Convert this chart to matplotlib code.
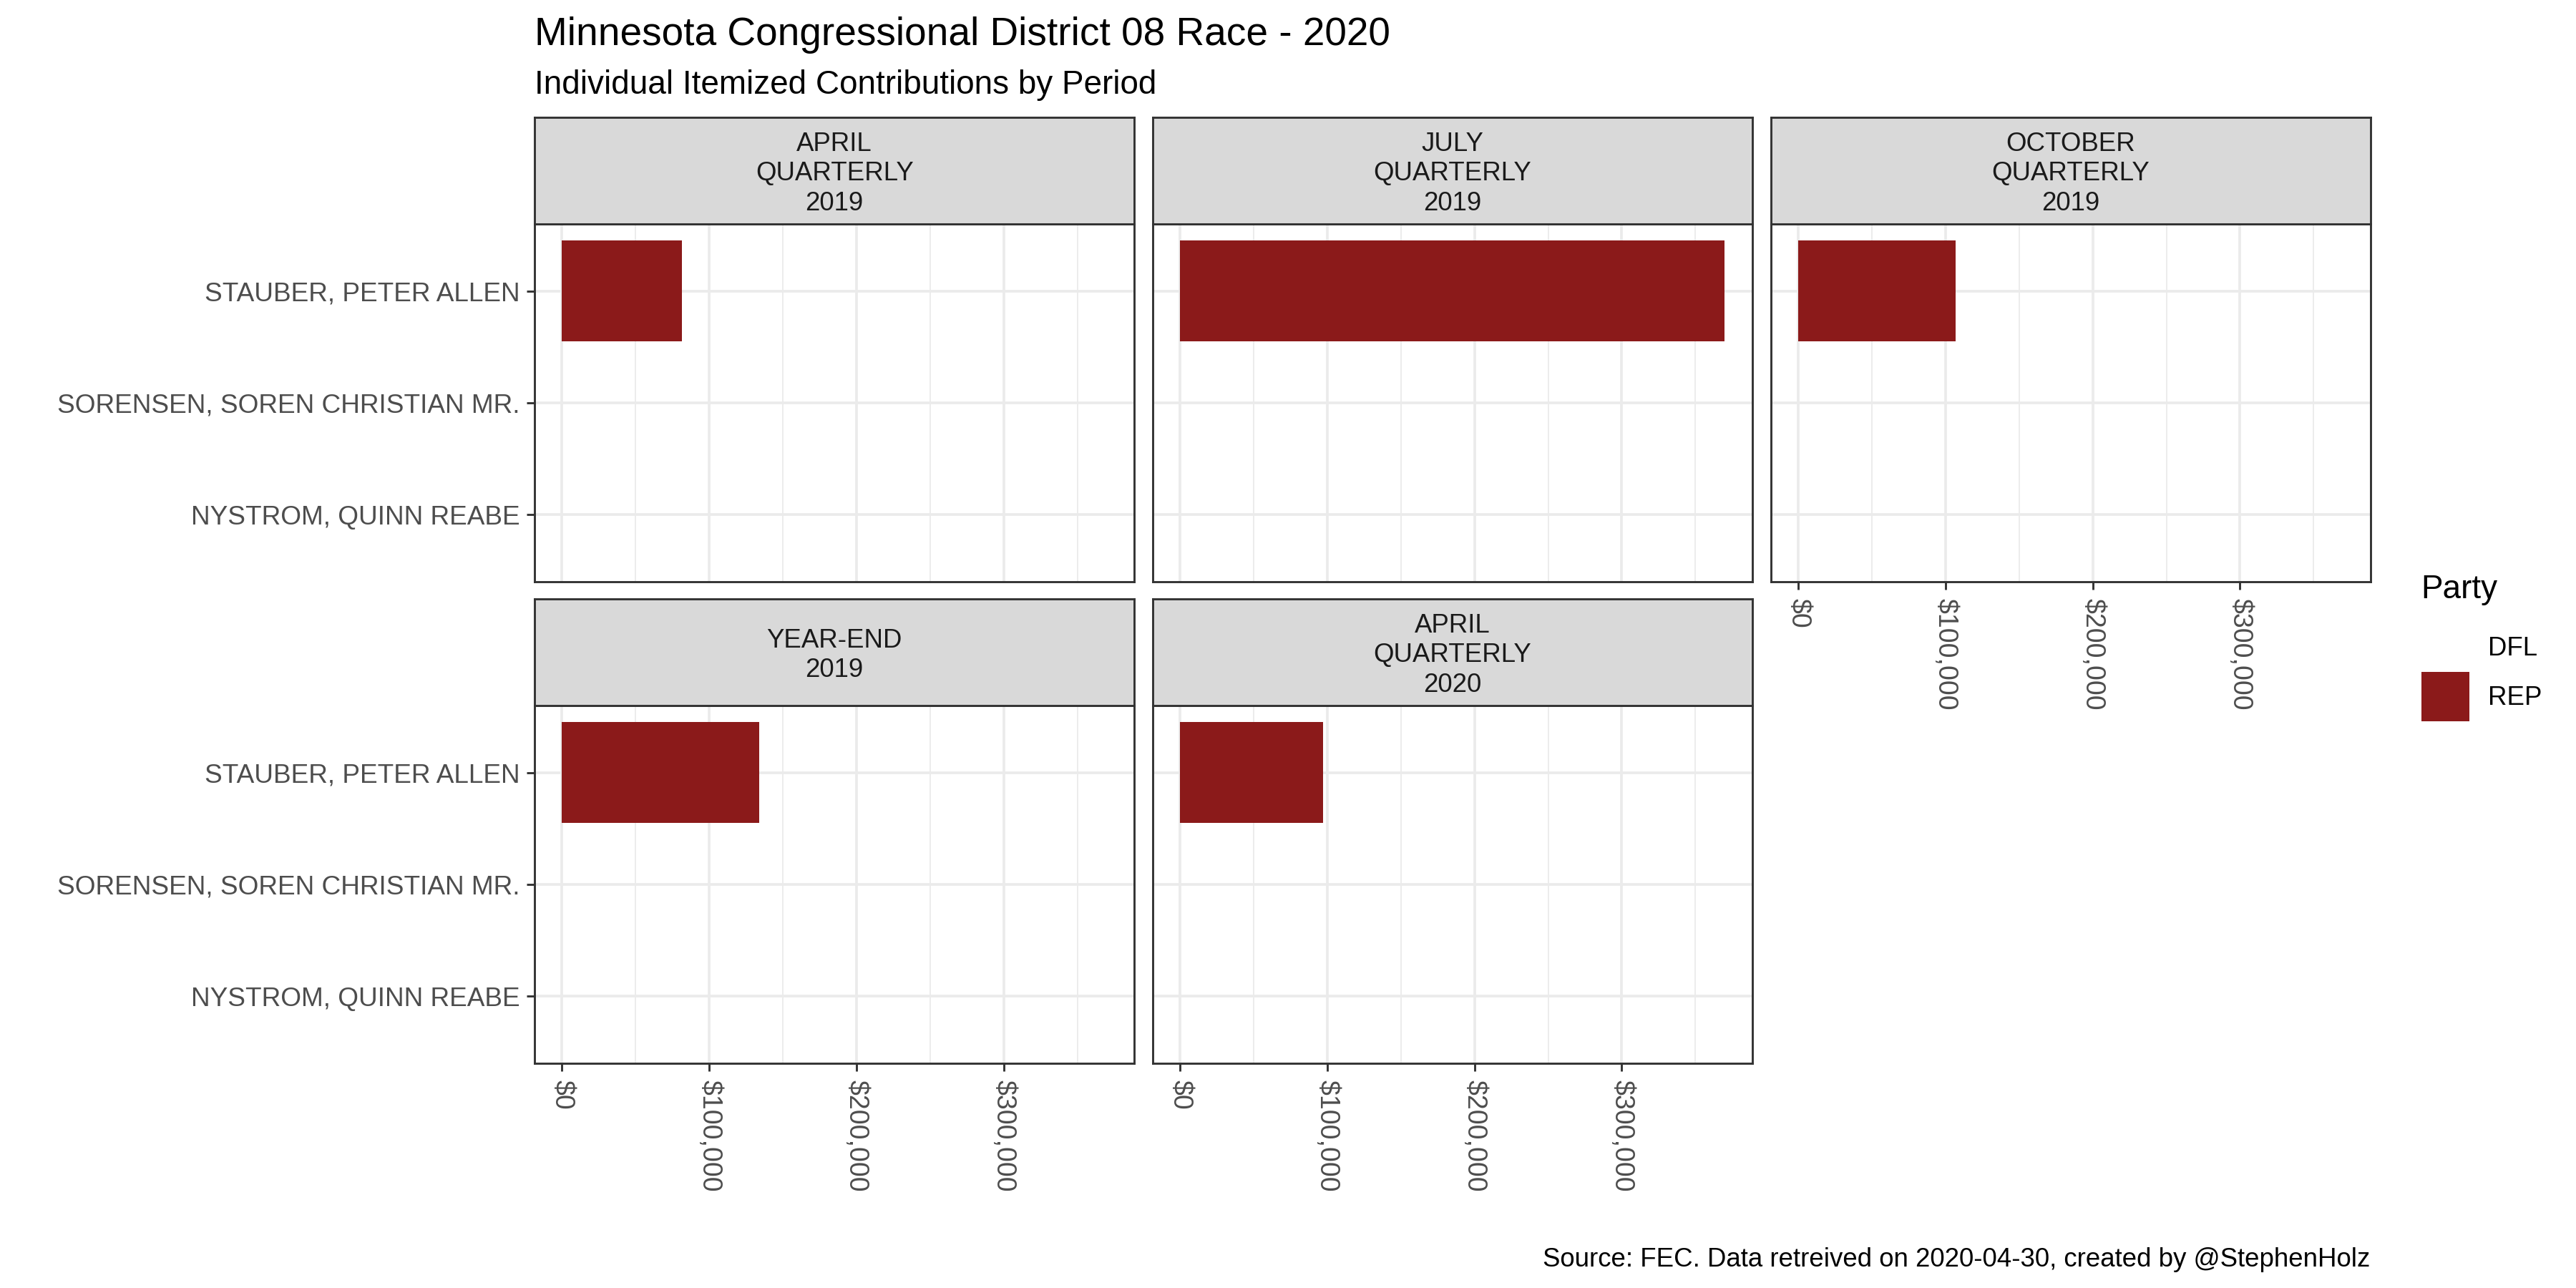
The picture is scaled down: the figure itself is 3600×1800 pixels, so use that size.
import matplotlib
matplotlib.use("Agg")
import matplotlib.pyplot as plt
from matplotlib.ticker import MultipleLocator, FuncFormatter
from matplotlib.patches import Patch

plt.rcParams['font.family'] = ['Liberation Sans', 'DejaVu Sans']

# ---------------- data ----------------
periods = ["APRIL\nQUARTERLY\n2019", "JULY\nQUARTERLY\n2019", "OCTOBER\nQUARTERLY\n2019",
           "YEAR-END\n2019", "APRIL\nQUARTERLY\n2020"]
candidates = ["NYSTROM, QUINN REABE", "SORENSEN, SOREN CHRISTIAN MR.", "STAUBER, PETER ALLEN"]
parties = ["DFL", "DFL", "REP"]
nystrom = [0, 0, 0, 0, 0]
sorensen = [0, 0, 0, 0, 0]
stauber = [81400, 370000, 107000, 134000, 97400]
party_names = ["DFL", "REP"]
party_colors = {"DFL": "none", "REP": "#8B1A1A"}

title = "Minnesota Congressional District 08 Race - 2020"
subtitle = "Individual Itemized Contributions by Period"
caption = "Source: FEC. Data retreived on 2020-04-30, created by @StephenHolz"
legend_title = "Party"

# ---------------- layout ----------------
W, H = 3600, 1800
fig = plt.figure(figsize=(12, 6), dpi=300)

def fx(px):
    return px / W

def fy(py):
    return 1 - py / H

col_left = [747.4, 1611.0, 2475.0]
panel_w = 837.5
rows = [(164, 313, 813), (837, 986, 1486)]  # strip top, strip bottom/panel top, panel bottom

GRAY20 = "#333333"
GRAY30 = "#4D4D4D"
GRAY10 = "#1A1A1A"
GRID = "#EBEBEB"

series = [nystrom, sorensen, stauber]
xmax = max(max(s) for s in series)
xmin_v = min(0, min(min(s) for s in series))
rng = xmax - xmin_v

money = FuncFormatter(lambda v, p: f"${v:,.0f}")

for i, period in enumerate(periods):
    r, c = divmod(i, 3)
    st_top, p_top, p_bot = rows[r]
    left = col_left[c]
    ax = fig.add_axes([fx(left), fy(p_bot), fx(panel_w), (p_bot - p_top) / H])
    vals = [s[i] for s in series]
    cols = [party_colors[p] for p in parties]
    ax.barh(candidates, vals, height=0.9, color=cols, linewidth=0, zorder=3)
    ax.set_xlim(xmin_v - 0.05 * rng, xmax + 0.05 * rng)
    ax.set_ylim(-0.6, len(candidates) - 1 + 0.6)
    ax.xaxis.set_major_locator(MultipleLocator(100000))
    ax.xaxis.set_minor_locator(MultipleLocator(50000))
    ax.xaxis.set_major_formatter(money)
    ax.set_axisbelow(True)
    ax.grid(which='major', axis='both', color=GRID, linewidth=0.9)
    ax.grid(which='minor', axis='x', color=GRID, linewidth=0.45)
    for sp in ax.spines.values():
        sp.set_color(GRAY20)
        sp.set_linewidth(0.7)
    show_x = (r == 1) or (c == 2)
    show_y = (c == 0)
    ax.tick_params(axis='x', which='minor', length=0)
    ax.tick_params(axis='x', which='major', direction='out', length=2.75, width=0.7,
                   color=GRAY20, labelcolor=GRAY30, labelsize=9.0, pad=2.7,
                   labelrotation=-90, bottom=show_x, labelbottom=show_x)
    ax.tick_params(axis='y', direction='out', length=2.75, width=0.7,
                   color=GRAY20, labelcolor=GRAY30, labelsize=8.9, pad=2.2,
                   left=show_y, labelleft=show_y)
    for lab in ax.get_xticklabels():
        lab.set_ha('center')
        lab.set_va('top')

    # strip
    sax = fig.add_axes([fx(left), fy(p_top), fx(panel_w), (p_top - st_top) / H])
    sax.set_facecolor("#D9D9D9")
    sax.set_xticks([])
    sax.set_yticks([])
    for sp in sax.spines.values():
        sp.set_color(GRAY20)
        sp.set_linewidth(0.7)
    sax.text(0.5, 0.47, period, ha='center', va='center', fontsize=8.8,
             color=GRAY10, linespacing=1.24, transform=sax.transAxes)

# titles
fig.text(fx(747), fy(63), title, fontsize=13.2, color='black', ha='left', va='baseline')
fig.text(fx(747), fy(131), subtitle, fontsize=11, color='black', ha='left', va='baseline')
fig.text(fx(3312), fy(1761), caption, fontsize=8.8, color='black', ha='right', va='center')

# legend
fig.text(fx(3383), fy(824), legend_title, fontsize=11, color='black', ha='left', va='center')
handles = [Patch(facecolor=party_colors[p], edgecolor='none', label=p) for p in party_names]
leg = fig.legend(handles=handles, loc='upper left',
                 bbox_to_anchor=(fx(3384), fy(870)), frameon=False, fontsize=8.8,
                 handlelength=1.83, handleheight=2.52,
                 labelspacing=0.0, handletextpad=0.71, borderpad=0, borderaxespad=0)

fig.savefig("out.png", dpi=300, facecolor='white')
